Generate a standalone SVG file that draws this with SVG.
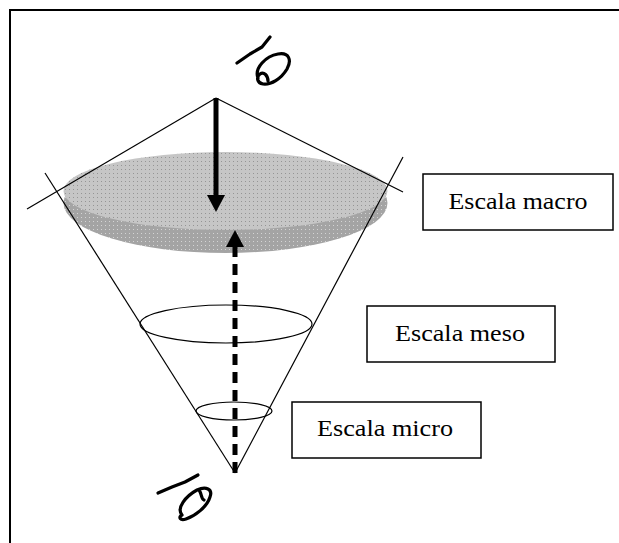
<svg xmlns="http://www.w3.org/2000/svg" width="619" height="543" viewBox="0 0 619 543">
<defs>
<style>
.thin{fill:none;stroke:#000;stroke-width:1.2}
.box{fill:#fff;stroke:#000;stroke-width:1.5}
.lbl{font-family:"Liberation Serif","Times New Roman",serif;font-size:23px;fill:#000;text-anchor:middle}
.ink{fill:none;stroke:#000;stroke-width:3.2;stroke-linecap:round;stroke-linejoin:round}
</style>
<pattern id="dotsL" width="4" height="4" patternUnits="userSpaceOnUse">
<rect width="4" height="4" fill="#c6c6c6"/>
<rect x="1" y="1" width="1" height="1" fill="#959595"/>
</pattern>
<pattern id="dotsD" width="4" height="4" patternUnits="userSpaceOnUse">
<rect width="4" height="4" fill="#a4a4a4"/>
<rect x="1" y="1" width="1" height="1" fill="#d4d4d4"/>
</pattern>
</defs>
<rect x="10" y="10" width="640" height="560" fill="#fff" stroke="#000" stroke-width="2"/>
<g id="cone">
<ellipse cx="225.5" cy="203" rx="162" ry="50" fill="url(#dotsD)"/>
<ellipse cx="225.5" cy="191" rx="162" ry="39" fill="url(#dotsL)"/>
<line class="thin" x1="27" y1="209" x2="216" y2="98"/>
<line class="thin" x1="216" y1="98" x2="403" y2="192"/>
<line class="thin" x1="45" y1="173" x2="235" y2="473"/>
<line class="thin" x1="403" y1="157" x2="235" y2="473"/>
<ellipse id="meso-ring" class="thin" cx="226" cy="324" rx="86" ry="19"/>
<ellipse id="micro-ring" class="thin" cx="234" cy="411" rx="38" ry="9"/>
</g>
<g id="connectors">
<line x1="216" y1="98" x2="216" y2="196" stroke="#000" stroke-width="5"/>
<path d="M207,195 L225,195 L216,212 Z" fill="#000"/>
<line x1="235" y1="473" x2="235" y2="246" stroke="#000" stroke-width="5" stroke-dasharray="11 7"/>
<path d="M226,247 L244,247 L235,230 Z" fill="#000"/>
</g>
<g id="macro">
<rect class="box" x="423" y="174" width="190" height="56"/>
<text class="lbl" x="518" y="209" textLength="139" lengthAdjust="spacingAndGlyphs">Escala macro</text>
</g>
<g id="meso">
<rect class="box" x="367" y="306" width="188" height="56"/>
<text class="lbl" x="460" y="341" textLength="130" lengthAdjust="spacingAndGlyphs">Escala meso</text>
</g>
<g id="micro">
<rect class="box" x="292" y="402" width="189" height="56"/>
<text class="lbl" x="385" y="436" textLength="136" lengthAdjust="spacingAndGlyphs">Escala micro</text>
</g>
<g id="mark-top">
<path class="ink" d="M237,63 L250,54 L262,47 L270,37"/>
<path class="ink" d="M258,78 C254,68 266,56 278,54 C289,52 292,60 287,69 C281,79 271,85 263,84 C257,83 256,77 260,74 C264,71 268,76 268,81"/>
</g>
<g id="mark-bottom">
<path class="ink" d="M158,493 L172,487 L185,482 L198,475"/>
<path class="ink" d="M182,515 C176,508 186,496 197,490 C206,486 213,489 210,497 C207,507 195,516 186,519 C180,521 178,517 182,515 M199,490 C202,494 201,499 204,500"/>
</g>
</svg>
